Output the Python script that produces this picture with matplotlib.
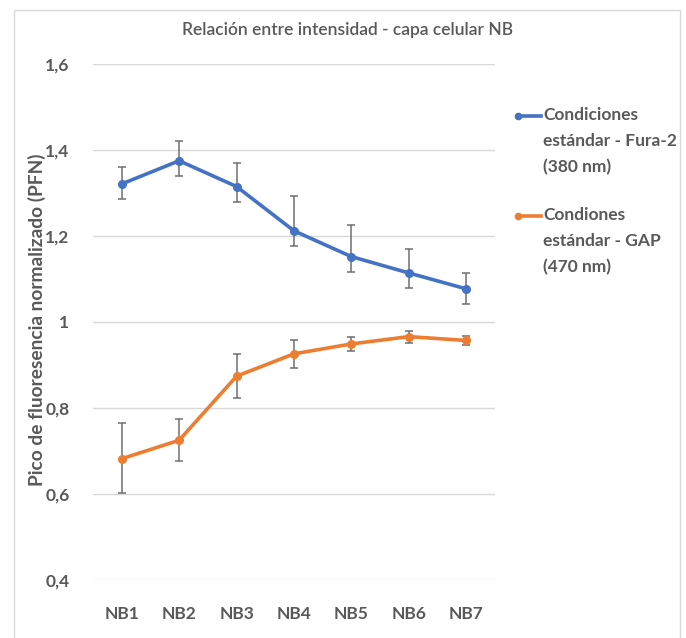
import matplotlib
matplotlib.use("Agg")
import matplotlib.pyplot as plt
from matplotlib.patches import Rectangle
from matplotlib.lines import Line2D

plt.rcParams['font.family'] = ['Lato', 'DejaVu Sans']

categories = ['NB1', 'NB2', 'NB3', 'NB4', 'NB5', 'NB6', 'NB7']
fura_values = [1.321, 1.375, 1.315, 1.212, 1.152, 1.114, 1.077]
fura_err_low = [0.034, 0.036, 0.035, 0.035, 0.036, 0.035, 0.034]
fura_err_high = [0.039, 0.047, 0.054, 0.082, 0.074, 0.055, 0.037]
gap_values = [0.682, 0.725, 0.874, 0.926, 0.949, 0.966, 0.957]
gap_err_low = [0.080, 0.048, 0.051, 0.033, 0.016, 0.014, 0.011]
gap_err_high = [0.084, 0.049, 0.051, 0.031, 0.016, 0.013, 0.011]
yticks = [0.4, 0.6, 0.8, 1.0, 1.2, 1.4, 1.6]
ytick_labels = ['0,4', '0,6', '0,8', '1', '1,2', '1,4', '1,6']
title = 'Relación entre intensidad - capa celular NB'
ylabel = 'Pico de fluoresencia normalizado (PFN)'
label_fura = 'Condiciones\nestándar - Fura-2\n(380 nm)'
label_gap = 'Condiones\nestándar - GAP\n(470 nm)'

W, H = 686, 638
fig = plt.figure(figsize=(W/100, H/100), dpi=100)
fig.patch.set_facecolor('white')

# outer chart frame
fig.patches.append(Rectangle((14/W, -0.05), (680-14)/W, 1.05 - 10/H, transform=fig.transFigure,
                             fill=False, edgecolor='#d9d9d9', linewidth=1))

ax = fig.add_axes([93/W, 1-580/H, (495-93)/W, (580-64)/H])
x = list(range(len(categories)))
blue = '#4472C4'
orange = '#ED7D31'
ecol = '#6f6f6f'

ax.errorbar(x, fura_values, yerr=[fura_err_low, fura_err_high], fmt='none', ecolor=ecol,
            elinewidth=1.1, capsize=3, capthick=1.1, zorder=3)
ax.errorbar(x, gap_values, yerr=[gap_err_low, gap_err_high], fmt='none', ecolor=ecol,
            elinewidth=1.1, capsize=3, capthick=1.1, zorder=3)
ax.plot(x, fura_values, color=blue, lw=2.6, marker='o', ms=5.5, zorder=4)
ax.plot(x, gap_values, color=orange, lw=2.6, marker='o', ms=5.5, zorder=4)

ax.set_xlim(-0.5, len(categories) - 0.5)
ax.set_ylim(0.4, 1.6)
ax.set_yticks(yticks)
ax.set_yticklabels(ytick_labels)
ax.set_xticks(x)
ax.set_xticklabels(categories)
ax.grid(axis='y', color='#d9d9d9', lw=1)
ax.set_axisbelow(True)
for s in ax.spines.values():
    s.set_visible(False)
ax.tick_params(length=0, labelsize=12.5, colors='#595959')
ax.tick_params(axis='x', pad=19)
ax.tick_params(axis='y', pad=17)
for lab in ax.get_xticklabels() + ax.get_yticklabels():
    lab.set_fontweight('bold')

fig.text(348/W, 1-30/H, title, ha='center', va='center', fontsize=12.5, color='#595959',
         fontweight='semibold')
fig.text(37/W, 1-320/H, ylabel, ha='center', va='center', rotation=90, fontsize=13.8,
         color='#595959', fontweight='bold')

# legend
for yy, col, lab in [(116, blue, label_fura), (216, orange, label_gap)]:
    fig.lines.append(Line2D([518/W, 541/W], [1-yy/H, 1-yy/H], transform=fig.transFigure,
                            color=col, lw=2.6, marker='o', ms=4.5, markevery=[0]))
    fig.text(543/W, 1-(yy-9)/H, lab, ha='left', va='top', fontsize=12.5, color='#595959',
             fontweight='bold', linespacing=1.75)

fig.savefig('out.png', dpi=100)
